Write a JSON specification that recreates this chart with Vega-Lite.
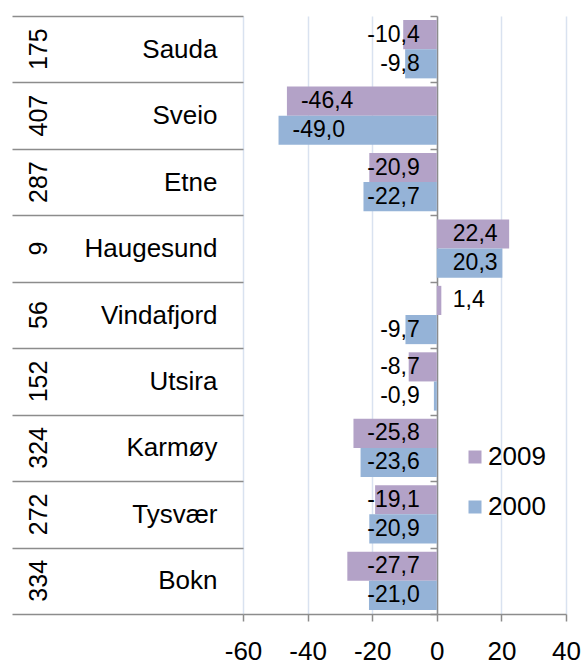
{
  "$schema": "https://vega.github.io/schema/vega-lite/v6.json",
  "width": 323,
  "height": 598,
  "autosize": {"type": "none"},
  "padding": {"left": 243, "top": 16, "right": 18, "bottom": 50},
  "data": {
    "values": [
      {"kommune": "Sauda", "rank": 175, "year": "2009", "value": -10.4},
      {"kommune": "Sauda", "rank": 175, "year": "2000", "value": -9.8},
      {"kommune": "Sveio", "rank": 407, "year": "2009", "value": -46.4},
      {"kommune": "Sveio", "rank": 407, "year": "2000", "value": -49.0},
      {"kommune": "Etne", "rank": 287, "year": "2009", "value": -20.9},
      {"kommune": "Etne", "rank": 287, "year": "2000", "value": -22.7},
      {"kommune": "Haugesund", "rank": 9, "year": "2009", "value": 22.4},
      {"kommune": "Haugesund", "rank": 9, "year": "2000", "value": 20.3},
      {"kommune": "Vindafjord", "rank": 56, "year": "2009", "value": 1.4},
      {"kommune": "Vindafjord", "rank": 56, "year": "2000", "value": -9.7},
      {"kommune": "Utsira", "rank": 152, "year": "2009", "value": -8.7},
      {"kommune": "Utsira", "rank": 152, "year": "2000", "value": -0.9},
      {"kommune": "Karmøy", "rank": 324, "year": "2009", "value": -25.8},
      {"kommune": "Karmøy", "rank": 324, "year": "2000", "value": -23.6},
      {"kommune": "Tysvær", "rank": 272, "year": "2009", "value": -19.1},
      {"kommune": "Tysvær", "rank": 272, "year": "2000", "value": -20.9},
      {"kommune": "Bokn", "rank": 334, "year": "2009", "value": -27.7},
      {"kommune": "Bokn", "rank": 334, "year": "2000", "value": -21.0}
    ]
  },
  "transform": [{"calculate": "datum.rank + '|' + datum.kommune", "as": "key"}],
  "layer": [
    {
      "mark": {"type": "bar"},
      "encoding": {
        "y": {
          "field": "key", "type": "nominal",
          "scale": {"domain": ["175|Sauda", "407|Sveio", "287|Etne", "9|Haugesund", "56|Vindafjord", "152|Utsira", "324|Karmøy", "272|Tysvær", "334|Bokn"], "padding": 0},
          "axis": {
            "orient": "left", "title": null, "grid": false, "domain": false,
            "tickBand": "extent", "tickSize": 231, "tickColor": "#8C8C8C", "tickWidth": 1.5,
            "labelExpr": "split(datum.value, '|')[1]",
            "labelFontSize": 26, "labelColor": "#000000", "labelPadding": -205,
            "labelBaseline": "middle", "labelLimit": 0, "labelOverlap": false
          }
        },
        "yOffset": {"field": "year", "type": "nominal", "sort": ["2009", "2000"], "scale": {"paddingOuter": 0.14, "paddingInner": 0}},
        "x": {
          "field": "value", "type": "quantitative", "title": null,
          "scale": {"domain": [-60, 40], "nice": false},
          "axis": {
            "values": [-60, -40, -20, 0, 20, 40], "format": "d", "title": null,
            "grid": true, "gridColor": "#D9E2F0", "gridWidth": 1.5,
            "domainColor": "#8C8C8C", "domainWidth": 1.5,
            "tickColor": "#8C8C8C", "tickSize": 7, "tickWidth": 1.5,
            "labelFontSize": 26, "labelColor": "#000000", "labelPadding": 17,
            "labelFlush": false, "labelOverlap": false
          }
        },
        "color": {
          "field": "year", "type": "nominal",
          "scale": {"domain": ["2009", "2000"], "range": ["#B3A2C7", "#95B3D7"]},
          "legend": {
            "orient": "none", "legendX": 219, "legendY": 428, "title": null,
            "symbolType": "square", "symbolSize": 169, "symbolStrokeWidth": 0,
            "labelFontSize": 26, "labelColor": "#000000", "rowPadding": 24, "labelOffset": 0
          }
        }
      }
    },
    {
      "transform": [{"filter": "datum.value < 0 && datum.value >= -40"}],
      "mark": {"type": "text", "fontSize": 23, "align": "right", "baseline": "middle", "dx": -17, "color": "#000000"},
      "encoding": {
        "y": {
          "field": "key", "type": "nominal",
          "axis": {
            "orient": "left", "title": null, "grid": false, "domain": false, "ticks": false,
            "labelExpr": "split(datum.value, '|')[0]",
            "labelAngle": -90, "labelAlign": "center", "labelBaseline": "middle",
            "labelFontSize": 25, "labelColor": "#000000", "labelPadding": 205, "labelOverlap": false
          }
        },
        "yOffset": {"field": "year", "type": "nominal", "sort": ["2009", "2000"]},
        "x": {"datum": 0, "type": "quantitative", "title": null},
        "text": {"field": "value", "type": "quantitative", "format": ".1f"}
      }
    },
    {
      "transform": [{"filter": "datum.value > 0"}],
      "mark": {"type": "text", "fontSize": 23, "align": "left", "baseline": "middle", "dx": 16, "color": "#000000"},
      "encoding": {
        "y": {
          "field": "key", "type": "nominal",
          "axis": {
            "orient": "left", "offset": -194, "title": null, "grid": false, "labels": false,
            "domainColor": "#8C8C8C", "domainWidth": 1.5,
            "tickBand": "extent", "tickSize": 7, "tickColor": "#8C8C8C", "tickWidth": 1.5
          }
        },
        "yOffset": {"field": "year", "type": "nominal", "sort": ["2009", "2000"]},
        "x": {"datum": 0, "type": "quantitative", "title": null},
        "text": {"field": "value", "type": "quantitative", "format": ".1f"}
      }
    },
    {
      "transform": [{"filter": "datum.value < -40"}],
      "mark": {"type": "text", "fontSize": 23, "align": "left", "baseline": "middle", "dx": 14, "color": "#000000"},
      "encoding": {
        "y": {"field": "key", "type": "nominal", "axis": null},
        "yOffset": {"field": "year", "type": "nominal", "sort": ["2009", "2000"]},
        "x": {"field": "value", "type": "quantitative", "title": null},
        "text": {"field": "value", "type": "quantitative", "format": ".1f"}
      }
    }
  ],
  "resolve": {"axis": {"y": "independent"}},
  "config": {
    "view": {"stroke": null},
    "font": "Liberation Sans",
    "locale": {"number": {"decimal": ",", "thousands": ".", "grouping": [3], "currency": ["", " kr"], "minus": "-"}}
  }
}
